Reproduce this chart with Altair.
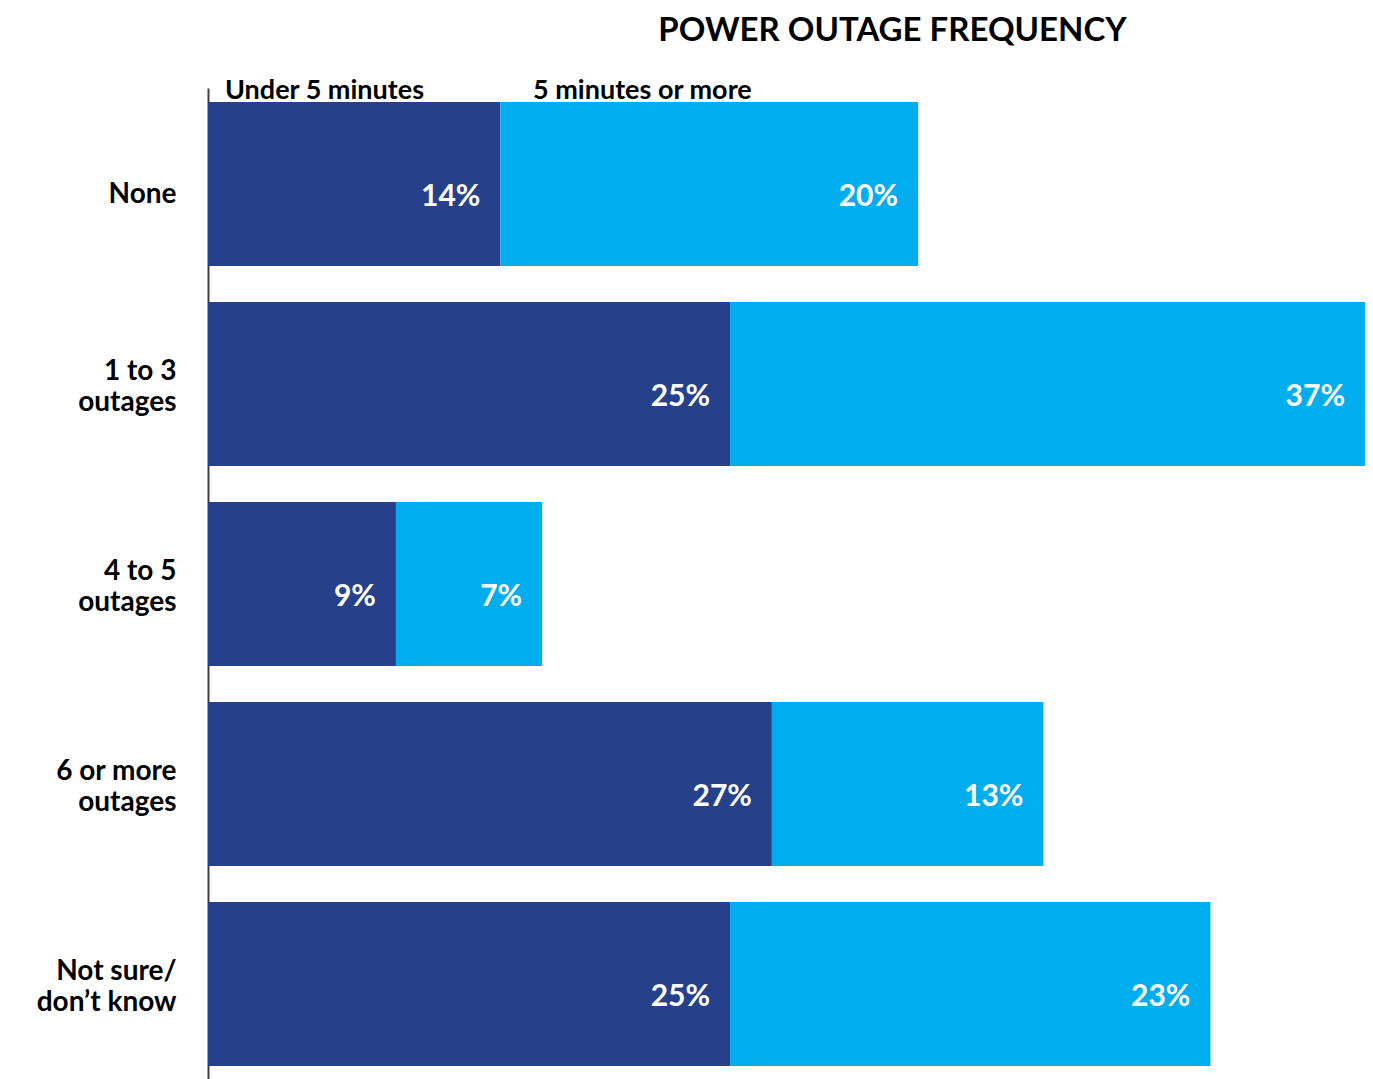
import altair as alt
import pandas as pd

# ---- data ----
categories = ["None", "1 to 3|outages", "4 to 5|outages", "6 or more|outages", "Not sure/|don’t know"]
series = ["Under 5 minutes", "5 minutes or more"]
under_5 = [14, 25, 9, 27, 25]
five_or_more = [20, 37, 7, 13, 23]
colors = ["#26408C", "#00AEEF"]
title_text = "POWER OUTAGE FREQUENCY"

X_MAX = 55.4  # visible part of the axis (the longest bar runs off the slide)

rows = []
for i, cat in enumerate(categories):
    start = 0
    for s_idx, (name, vals) in enumerate(zip(series, [under_5, five_or_more])):
        v = vals[i]
        rows.append({"category": cat, "series": name, "order": s_idx,
                     "value": v, "start": start, "end": start + v,
                     "label": f"{v}%"})
        start += v
df = pd.DataFrame(rows)

FONT = "Lato"

x_scale = alt.Scale(domain=[0, X_MAX], nice=False, zero=True)
y_scale = alt.Scale(domain=categories, paddingInner=0.18, paddingOuter=0.07)

base = alt.Chart(df)

bars = base.mark_bar(clip=True).encode(
    y=alt.Y("category:N", scale=y_scale, sort=categories,
            axis=alt.Axis(title=None, ticks=False, domain=True,
                          domainColor="#404040", domainWidth=2,
                          labelExpr="split(datum.label, '|')",
                          labelFont=FONT, labelFontSize=28, labelFontWeight="bold",
                          labelColor="#000000", labelAlign="right",
                          labelBaseline="middle",
                          labelLineHeight=31, labelPadding=32,
                          labelOffset={"condition": {"test": "indexof(datum.value, '|') >= 0",
                                                     "value": -12},
                                       "value": 11},
                          minExtent=200, maxExtent=200)),
    x=alt.X("start:Q", scale=x_scale, axis=None),
    x2="end:Q",
    color=alt.Color("series:N", sort=series,
                    scale=alt.Scale(domain=series, range=colors),
                    legend=alt.Legend(title=None, orient="none", direction="horizontal",
                                      columns=2, legendX=-10, legendY=-11,
                                      symbolSize=0, symbolOpacity=0, symbolStrokeWidth=0,
                                      labelOffset=0, columnPadding=81,
                                      labelFont=FONT, labelFontSize=27,
                                      labelFontWeight="bold", labelColor="#000000",
                                      labelLimit=400)),
)

labels = base.transform_calculate(
    lx=f"min(datum.end, {X_MAX})"
).mark_text(align="right", baseline="middle", dx=-20, dy=13,
            font=FONT, fontSize=30, fontWeight="bold", color="white").encode(
    y=alt.Y("category:N", scale=y_scale, sort=categories),
    x=alt.X("lx:Q", scale=x_scale),
    text="label:N",
)

chart = alt.layer(bars, labels).properties(
    width=1157,
    height=992,
    background="white",
    title=alt.TitleParams(title_text, font=FONT, fontSize=33, fontWeight="bold",
                          color="#000000", anchor="middle", frame="group",
                          dx=106, offset=3, baseline="alphabetic"),
    autosize=alt.AutoSizeParams(type="none"),
    padding={"left": 200, "top": 80, "right": 0, "bottom": 0},
).configure_view(stroke=None)

chart.save("out.html", embed_options={"renderer": "svg", "actions": False})
